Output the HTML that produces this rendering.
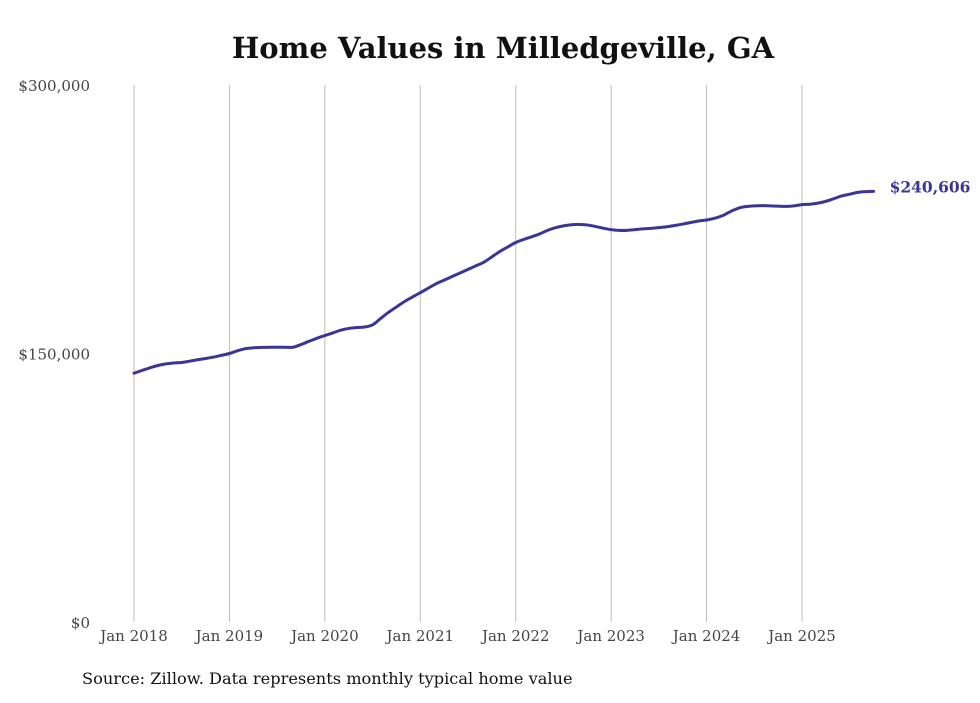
<!DOCTYPE html>
<html><head><meta charset="utf-8"><style>
html,body{margin:0;padding:0;background:#fff;}
body{width:980px;height:699px;overflow:hidden;font-family:"DejaVu Serif","Liberation Serif",serif;}
</style></head><body>
<svg id="chart" width="980" height="699" xmlns="http://www.w3.org/2000/svg">
<text x="503" y="58" text-anchor="middle" font-family="DejaVu Serif, Liberation Serif, serif" font-weight="bold" font-size="29" fill="#111">Home Values in Milledgeville, GA</text>
<g id="grid"></g><g id="yticks"></g><g id="xticks"></g><g id="series"></g>
<text x="82" y="684" font-family="DejaVu Serif, Liberation Serif, serif" font-size="16.2" fill="#111">Source: Zillow. Data represents monthly typical home value</text>
</svg>
<script>
const yTickValues=[0,150000,300000];
const yTickLabels=["$0","$150,000","$300,000"];
const xTickYears=[2018,2019,2020,2021,2022,2023,2024,2025];
const xTickLabels=["Jan 2018","Jan 2019","Jan 2020","Jan 2021","Jan 2022","Jan 2023","Jan 2024","Jan 2025"];
const startYear=2018;
// monthly values Jan 2018 .. Oct 2025 (thousands)
const values=[
139,140.5,142,143.3,144.2,144.7,145,145.7,146.5,147.2,148,149,
150,151.5,152.7,153.2,153.4,153.5,153.5,153.5,153.5,155,156.8,158.5,
160,161.5,163,164,164.5,164.8,166,169.5,173,176,179,181.5,
184,186.5,189,191,193,195,197,199,201,204,207,209.5,
212,213.7,215.2,216.8,218.8,220.3,221.3,221.9,222.1,221.8,221,220,
219.2,218.8,218.8,219.2,219.6,219.9,220.3,220.8,221.5,222.3,223.2,224,
224.6,225.5,227,229.3,231.2,232.1,232.5,232.6,232.5,232.3,232.2,232.5,
233.2,233.4,234,235,236.5,238,239,240,240.4,240.606];
const lastLabel="$240,606";
const ns="http://www.w3.org/2000/svg";
const X0=134,PXY=95.43,Y0=622,Y1=85;
function xScale(monthIndex){return X0+PXY*monthIndex/12;}
function yScale(v){return Y0-(Y0-Y1)*v/300000;}
function mk(tag,attrs,parent){const e=document.createElementNS(ns,tag);for(const k in attrs)e.setAttribute(k,attrs[k]);parent.appendChild(e);return e;}
const grid=document.getElementById('grid'),xt=document.getElementById('xticks'),yt=document.getElementById('yticks'),ser=document.getElementById('series');
xTickYears.forEach((yr,i)=>{
 const x=xScale((yr-startYear)*12);
 const l=mk('line',{x1:x,x2:x,y1:yScale(300000),y2:yScale(0),stroke:'#bdbdbd','stroke-width':1},grid);
 
 
 const t=mk('text',{x:x,y:641,'text-anchor':'middle','font-size':15,fill:'#444','font-family':'DejaVu Serif, Liberation Serif, serif'},xt);
 t.textContent=xTickLabels[i];
 
 
});
yTickValues.forEach((v,i)=>{
 const t=mk('text',{x:90,y:yScale(v)+6,'text-anchor':'end','font-size':15,fill:'#444','font-family':'DejaVu Serif, Liberation Serif, serif'},yt);
 t.textContent=yTickLabels[i];
 
 
});
const pts=values.map((v,i)=>[xScale(i),yScale(v*1000)]);
let d='M'+pts[0][0]+','+pts[0][1];
for(let i=1;i<pts.length;i++){
 const p0=pts[Math.max(0,i-2)],p1=pts[i-1],p2=pts[i],p3=pts[Math.min(pts.length-1,i+1)];
 const c1x=p1[0]+(p2[0]-p0[0])/6,c1y=p1[1]+(p2[1]-p0[1])/6,c2x=p2[0]-(p3[0]-p1[0])/6,c2y=p2[1]-(p3[1]-p1[1])/6;
 d+=` C${c1x},${c1y} ${c2x},${c2y} ${p2[0]},${p2[1]}`;
}
const path=mk('path',{d:d,fill:'none',stroke:'#3d3596','stroke-width':3,'stroke-linejoin':'round','stroke-linecap':'round'},ser);


const last=pts[pts.length-1];
const lt=mk('text',{x:last[0]+16,y:last[1]+1,'font-size':15.5,'font-weight':'bold',fill:'#3d3596','font-family':'DejaVu Serif, Liberation Serif, serif'},ser);
lt.textContent=lastLabel;


</script>
</body></html>
